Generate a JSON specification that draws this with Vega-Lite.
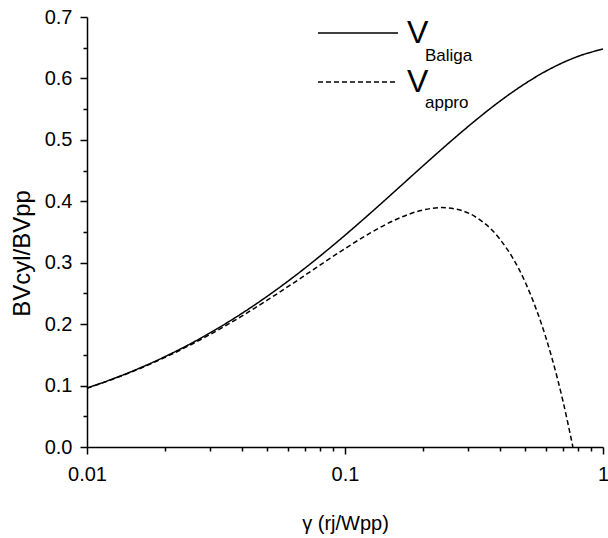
{
  "$schema": "https://vega.github.io/schema/vega-lite/v6.json",
  "width": 516,
  "height": 430,
  "autosize": {"type": "none"},
  "padding": {"left": 87, "top": 17, "right": 5, "bottom": 91},
  "background": "white",
  "config": {"view": {"stroke": null}, "font": "Liberation Sans"},
  "data": {
    "values": [
      {"series": "V_Baliga", "sub": "Baliga", "gamma": 0.01, "ratio": 0.0960},
      {"series": "V_Baliga", "sub": "Baliga", "gamma": 0.012589, "ratio": 0.1109},
      {"series": "V_Baliga", "sub": "Baliga", "gamma": 0.015849, "ratio": 0.1277},
      {"series": "V_Baliga", "sub": "Baliga", "gamma": 0.019953, "ratio": 0.1467},
      {"series": "V_Baliga", "sub": "Baliga", "gamma": 0.025119, "ratio": 0.1678},
      {"series": "V_Baliga", "sub": "Baliga", "gamma": 0.031623, "ratio": 0.1914},
      {"series": "V_Baliga", "sub": "Baliga", "gamma": 0.039811, "ratio": 0.2174},
      {"series": "V_Baliga", "sub": "Baliga", "gamma": 0.050119, "ratio": 0.2458},
      {"series": "V_Baliga", "sub": "Baliga", "gamma": 0.063096, "ratio": 0.2766},
      {"series": "V_Baliga", "sub": "Baliga", "gamma": 0.079433, "ratio": 0.3097},
      {"series": "V_Baliga", "sub": "Baliga", "gamma": 0.1, "ratio": 0.3447},
      {"series": "V_Baliga", "sub": "Baliga", "gamma": 0.125893, "ratio": 0.3813},
      {"series": "V_Baliga", "sub": "Baliga", "gamma": 0.158489, "ratio": 0.4189},
      {"series": "V_Baliga", "sub": "Baliga", "gamma": 0.199526, "ratio": 0.4568},
      {"series": "V_Baliga", "sub": "Baliga", "gamma": 0.251189, "ratio": 0.4940},
      {"series": "V_Baliga", "sub": "Baliga", "gamma": 0.316228, "ratio": 0.5297},
      {"series": "V_Baliga", "sub": "Baliga", "gamma": 0.398107, "ratio": 0.5628},
      {"series": "V_Baliga", "sub": "Baliga", "gamma": 0.501187, "ratio": 0.5921},
      {"series": "V_Baliga", "sub": "Baliga", "gamma": 0.630957, "ratio": 0.6166},
      {"series": "V_Baliga", "sub": "Baliga", "gamma": 0.794328, "ratio": 0.6354},
      {"series": "V_Baliga", "sub": "Baliga", "gamma": 1.0, "ratio": 0.6479},
      {"series": "V_appro", "sub": "appro", "gamma": 0.01, "ratio": 0.0957},
      {"series": "V_appro", "sub": "appro", "gamma": 0.012589, "ratio": 0.1104},
      {"series": "V_appro", "sub": "appro", "gamma": 0.015849, "ratio": 0.1269},
      {"series": "V_appro", "sub": "appro", "gamma": 0.019953, "ratio": 0.1454},
      {"series": "V_appro", "sub": "appro", "gamma": 0.025119, "ratio": 0.1660},
      {"series": "V_appro", "sub": "appro", "gamma": 0.031623, "ratio": 0.1886},
      {"series": "V_appro", "sub": "appro", "gamma": 0.039811, "ratio": 0.2131},
      {"series": "V_appro", "sub": "appro", "gamma": 0.050119, "ratio": 0.2394},
      {"series": "V_appro", "sub": "appro", "gamma": 0.063096, "ratio": 0.2669},
      {"series": "V_appro", "sub": "appro", "gamma": 0.079433, "ratio": 0.2952},
      {"series": "V_appro", "sub": "appro", "gamma": 0.1, "ratio": 0.3230},
      {"series": "V_appro", "sub": "appro", "gamma": 0.125893, "ratio": 0.3489},
      {"series": "V_appro", "sub": "appro", "gamma": 0.158489, "ratio": 0.3708},
      {"series": "V_appro", "sub": "appro", "gamma": 0.199526, "ratio": 0.3856},
      {"series": "V_appro", "sub": "appro", "gamma": 0.238, "ratio": 0.3898},
      {"series": "V_appro", "sub": "appro", "gamma": 0.251189, "ratio": 0.3892},
      {"series": "V_appro", "sub": "appro", "gamma": 0.316228, "ratio": 0.3761},
      {"series": "V_appro", "sub": "appro", "gamma": 0.398107, "ratio": 0.3386},
      {"series": "V_appro", "sub": "appro", "gamma": 0.501187, "ratio": 0.2670},
      {"series": "V_appro", "sub": "appro", "gamma": 0.6, "ratio": 0.1788},
      {"series": "V_appro", "sub": "appro", "gamma": 0.630957, "ratio": 0.1479},
      {"series": "V_appro", "sub": "appro", "gamma": 0.7, "ratio": 0.0742},
      {"series": "V_appro", "sub": "appro", "gamma": 0.7645, "ratio": 0.0}
    ]
  },
  "mark": {"type": "line", "interpolate": "monotone", "strokeWidth": 1.5},
  "encoding": {
    "x": {
      "field": "gamma",
      "type": "quantitative",
      "scale": {"type": "log", "domain": [0.01, 1]},
      "axis": {
        "values": [0.01, 0.02, 0.03, 0.04, 0.05, 0.06, 0.07, 0.08, 0.09, 0.1, 0.2, 0.3, 0.4, 0.5, 0.6, 0.7, 0.8, 0.9, 1],
        "labelExpr": "datum.value === 0.01 ? '0.01' : datum.value === 0.1 ? '0.1' : datum.value === 1 ? '1' : ''",
        "tickSize": {"condition": {"test": "datum.value === 0.01 || datum.value === 0.1 || datum.value === 1", "value": 7}, "value": 4},
        "grid": false,
        "domainColor": "black",
        "domainWidth": 1.5,
        "tickColor": "black",
        "tickWidth": 1.5,
        "labelFontSize": 20,
        "labelColor": "black",
        "labelPadding": 10,
        "labelFlush": false,
        "labelOverlap": false,
        "title": "γ (rj/Wpp)",
        "titleFontSize": 20,
        "titleFontWeight": "normal",
        "titleColor": "black",
        "titleY": 66
      }
    },
    "y": {
      "field": "ratio",
      "type": "quantitative",
      "scale": {"domain": [0, 0.7]},
      "axis": {
        "values": [0, 0.05, 0.1, 0.15, 0.2, 0.25, 0.3, 0.35, 0.4, 0.45, 0.5, 0.55, 0.6, 0.65, 0.7],
        "labelExpr": "round(datum.value * 20) % 2 === 0 ? format(datum.value, '.1f') : ''",
        "tickSize": {"condition": {"test": "round(datum.value * 20) % 2 === 0", "value": 7}, "value": 4},
        "grid": false,
        "domainColor": "black",
        "domainWidth": 1.5,
        "tickColor": "black",
        "tickWidth": 1.5,
        "labelFontSize": 20,
        "labelColor": "black",
        "labelPadding": 8,
        "labelFlush": false,
        "labelOverlap": false,
        "title": "BVcyl/BVpp",
        "titleFontSize": 24,
        "titleFontWeight": "normal",
        "titleColor": "black",
        "titleX": -53,
        "titleY": 236
      }
    },
    "strokeDash": {
      "field": "series",
      "type": "nominal",
      "scale": {"domain": ["V_Baliga", "V_appro"], "range": [[1, 0], [5, 3]]},
      "legend": {
        "orient": "none",
        "legendX": 230,
        "legendY": 1,
        "title": null,
        "padding": 0,
        "symbolType": "stroke",
        "symbolSize": 6400,
        "symbolStrokeWidth": 1.5,
        "symbolStrokeColor": "black",
        "clipHeight": 30,
        "labelExpr": "'V'",
        "labelFontSize": 32,
        "labelColor": "black",
        "labelOffset": 8,
        "rowPadding": 17
      }
    },
    "color": {
      "field": "sub",
      "type": "nominal",
      "scale": {"domain": ["Baliga", "appro"], "range": ["black", "black"]},
      "legend": {
        "orient": "none",
        "legendX": 321,
        "legendY": 30,
        "title": null,
        "padding": 0,
        "symbolType": "circle",
        "symbolSize": 1,
        "symbolOpacity": 0,
        "symbolFillColor": "white",
        "symbolStrokeColor": "white",
        "labelFontSize": 17,
        "labelColor": "black",
        "labelOffset": 0,
        "rowPadding": 29
      }
    }
  }
}
